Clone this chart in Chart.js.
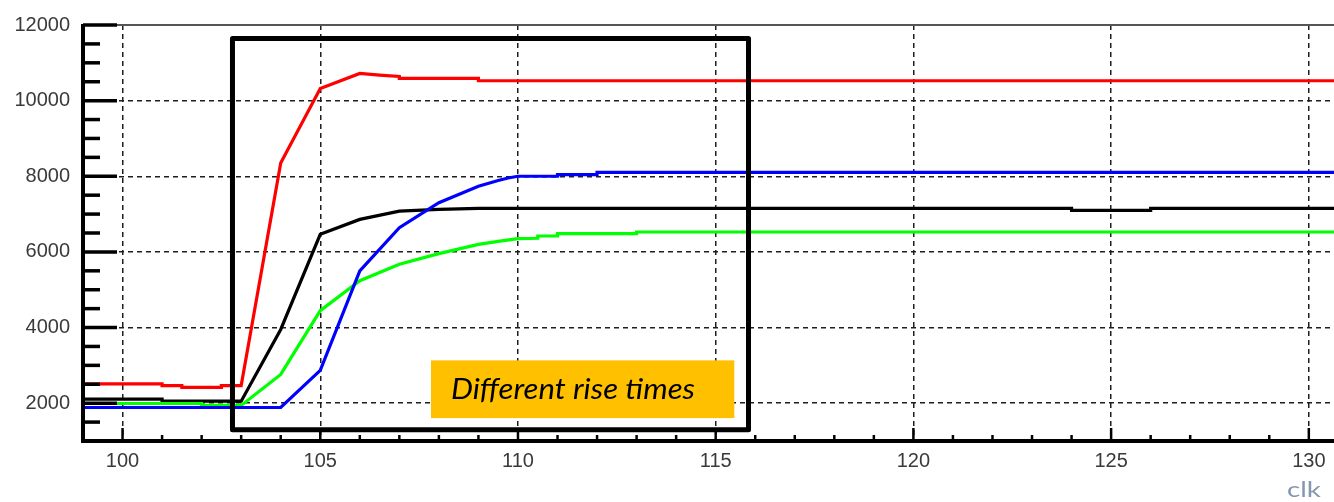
<!DOCTYPE html>
<html>
<head>
<meta charset="utf-8">
<script src="https://cdn.jsdelivr.net/npm/chart.js@4"></script>
<style>
  html, body { margin: 0; padding: 0; overflow: hidden; background: #ffffff; }
  #wrap { position: relative; width: 1400px; height: 502px; }
</style>
</head>
<body>
<div id="wrap"><canvas id="c"></canvas></div>
<script>
// Pulse amplitude (ADC counts) versus clock tick, four channels.
const clkRed   = [99, 101, 101, 101.5, 101.5, 102.5, 102.5, 103, 104, 105, 106, 106.5, 107, 107, 109, 109, 131.8];
const adcRed   = [2510, 2510, 2465, 2465, 2420, 2420, 2465, 2465, 8350, 10320, 10718, 10676, 10640, 10590, 10590, 10526, 10526];

const clkBlack = [99, 101, 101, 103, 104, 105, 106, 107, 108, 109, 124, 124, 126, 126, 131.8];
const adcBlack = [2105, 2105, 2053, 2053, 3950, 6465, 6860, 7079, 7125, 7150, 7150, 7097, 7097, 7150, 7150];

const clkGreen = [99, 102, 102, 103, 104, 105, 106, 107, 108, 109, 109.5, 110, 110.5, 110.5, 111, 111, 113, 113, 131.8];
const adcGreen = [1992, 1992, 1940, 1940, 2760, 4447, 5237, 5676, 5955, 6200, 6280, 6350, 6360, 6421, 6421, 6482, 6482, 6526, 6526];

const clkBlue  = [99, 104, 105, 106, 107, 108, 109, 109.5, 109.75, 110, 111, 111, 112, 112, 131.8];
const adcBlue  = [1886, 1886, 2868, 5500, 6640, 7300, 7737, 7886, 7955, 8000, 8000, 8044, 8044, 8105, 8105];

const xTickLabels = [100, 105, 110, 115, 120, 125, 130];
const yTickLabels = [2000, 4000, 6000, 8000, 10000, 12000];
const xRange = [99, 131.8];
const yRange = [1000, 12000];

// Highlight frame around the rising edges and its caption box (data coordinates)
const frameX = [102.78, 115.83];
const frameY = [1300, 11645];
const captionX = [107.8, 115.47];
const captionY = [1605, 3132];
const captionText = 'Different rise times';
const xTitle = 'clk';

const pts = (xs, ys) => xs.map((v, i) => ({ x: v, y: ys[i] }));
const series = (data, color) => ({
  data, borderColor: color, backgroundColor: color, borderWidth: 3.2,
  pointRadius: 0, tension: 0, fill: false
});

const axisFont = { family: 'Liberation Sans', size: 20 };
const labelColor = '#3a3a3a';

const decor = {
  id: 'decor',
  afterDatasetsDraw(chart) {
    const { ctx, chartArea: a, scales: { x, y } } = chart;
    const seg = (x1, y1, x2, y2) => { ctx.beginPath(); ctx.moveTo(x1, y1); ctx.lineTo(x2, y2); ctx.stroke(); };
    ctx.save();
    ctx.lineCap = 'butt';

    // thin top frame
    ctx.strokeStyle = '#555555';
    ctx.lineWidth = 2;
    seg(a.left, a.top, a.right, a.top);

    // inward ticks on the y axis: major every 2000, minor every 500
    ctx.strokeStyle = '#000000';
    ctx.lineWidth = 3.5;
    for (let v = yRange[0] + 500; v <= yRange[1]; v += 500) {
      const p = y.getPixelForValue(v);
      seg(a.left, p, a.left + (v % 2000 === 0 ? 34 : 17), p);
    }
    // inward ticks on the x axis: major every 5, minor every 1
    ctx.lineWidth = 2.5;
    for (let v = Math.ceil(xRange[0] + 0.5); v <= xRange[1]; v++) {
      const p = x.getPixelForValue(v);
      seg(p, a.bottom, p, a.bottom - (v % 5 === 0 ? 13 : 6));
    }

    // heavy left and bottom axes
    ctx.lineWidth = 4;
    seg(a.left, a.top - 1, a.left, a.bottom + 2);
    seg(a.left - 2, a.bottom, a.right, a.bottom);

    // highlight frame
    const fx1 = x.getPixelForValue(frameX[0]), fx2 = x.getPixelForValue(frameX[1]);
    const fy1 = y.getPixelForValue(frameY[1]), fy2 = y.getPixelForValue(frameY[0]);
    ctx.lineWidth = 5;
    ctx.lineJoin = 'round';
    ctx.strokeRect(fx1, fy1, fx2 - fx1, fy2 - fy1);

    // caption box
    const cx1 = x.getPixelForValue(captionX[0]), cx2 = x.getPixelForValue(captionX[1]);
    const cy1 = y.getPixelForValue(captionY[1]), cy2 = y.getPixelForValue(captionY[0]);
    ctx.fillStyle = '#ffc000';
    ctx.fillRect(cx1, cy1, cx2 - cx1, cy2 - cy1);
    ctx.fillStyle = '#000000';
    ctx.font = 'italic 28px Lato';
    ctx.textAlign = 'left';
    ctx.textBaseline = 'alphabetic';
    const tw = ctx.measureText(captionText).width;
    ctx.save();
    ctx.translate(cx1 + 20, cy1 + 39);
    ctx.scale(244 / tw, 1);
    ctx.fillText(captionText, 0, 0);
    ctx.restore();

    // axis title at the lower right
    ctx.fillStyle = '#8497b0';
    ctx.font = '21px Lato';
    const ttw = ctx.measureText(xTitle).width;
    ctx.save();
    ctx.translate(1287, 497);
    ctx.scale(34 / ttw, 1);
    ctx.fillText(xTitle, 0, 0);
    ctx.restore();

    ctx.restore();
  }
};

new Chart(document.getElementById('c'), {
  type: 'line',
  data: {
    datasets: [
      series(pts(clkRed, adcRed), '#ff0000'),
      series(pts(clkBlue, adcBlue), '#0000ff'),
      series(pts(clkGreen, adcGreen), '#00ff00'),
      series(pts(clkBlack, adcBlack), '#000000')
    ]
  },
  options: {
    responsive: true,
    maintainAspectRatio: false,
    animation: false,
    events: [],
    layout: { padding: { top: 23, right: 20, left: 0, bottom: 0 } },
    plugins: { legend: { display: false }, tooltip: { enabled: false } },
    scales: {
      x: {
        type: 'linear',
        min: xRange[0],
        max: xRange[1],
        afterBuildTicks: s => { s.ticks = xTickLabels.map(v => ({ value: v })); },
        afterFit: s => { s.height = 61; },
        ticks: { font: axisFont, color: labelColor, maxRotation: 0, autoSkip: false, padding: 8,
                 callback: v => String(v) },
        grid: { color: '#1e1e1e', lineWidth: 1.5, drawTicks: false },
        border: { display: false, dash: [5, 4] }
      },
      y: {
        type: 'linear',
        min: yRange[0],
        max: yRange[1],
        afterBuildTicks: s => { s.ticks = yTickLabels.map(v => ({ value: v })); },
        afterFit: s => { s.width = 83; },
        ticks: { font: axisFont, color: labelColor, padding: 13, callback: v => String(v) },
        grid: {
          color: c => (c.tick && c.tick.value === yRange[1]) ? 'rgba(0,0,0,0)' : '#1e1e1e',
          lineWidth: 1.5, drawTicks: false
        },
        border: { display: false, dash: [5, 4] }
      }
    }
  },
  plugins: [decor]
});
</script>
</body>
</html>
